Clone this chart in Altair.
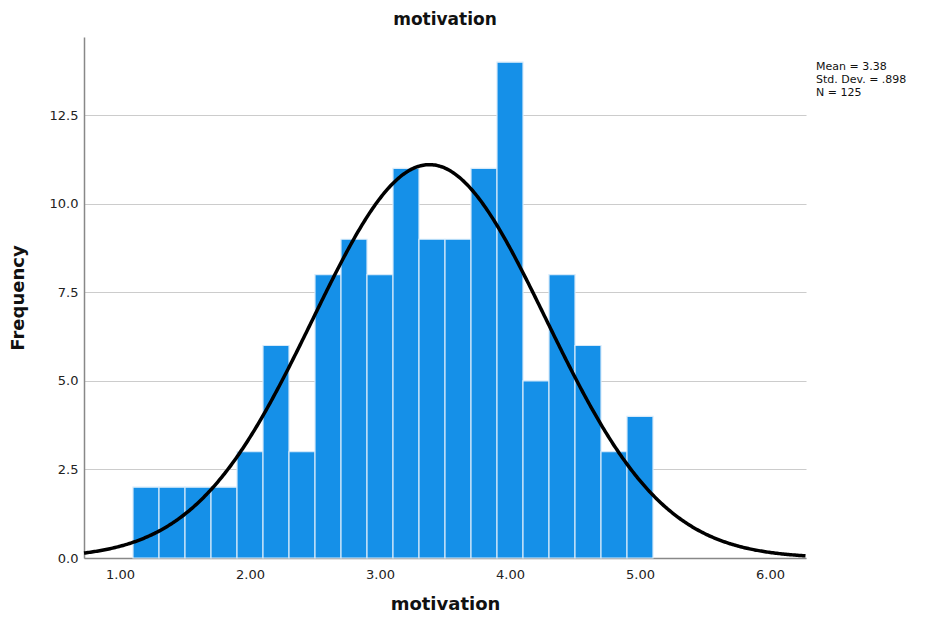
import altair as alt
import pandas as pd

# Histogram bins (start, end) and frequencies
bin_start = [1.1, 1.3, 1.5, 1.7, 1.9, 2.1, 2.3, 2.5, 2.7, 2.9,
             3.1, 3.3, 3.5, 3.7, 3.9, 4.1, 4.3, 4.5, 4.7, 4.9]
bin_end = [1.3, 1.5, 1.7, 1.9, 2.1, 2.3, 2.5, 2.7, 2.9, 3.1,
           3.3, 3.5, 3.7, 3.9, 4.1, 4.3, 4.5, 4.7, 4.9, 5.1]
counts = [2, 2, 2, 2, 3, 6, 3, 8, 9, 8,
          11, 9, 9, 11, 14, 5, 8, 6, 3, 4]

# Summary statistics shown in the reference
MEAN = 3.38
SD = 0.898
N = 125
BIN_W = 0.2

x_ticks = [1.0, 2.0, 3.0, 4.0, 5.0, 6.0]
y_ticks = [0.0, 2.5, 5.0, 7.5, 10.0, 12.5]
x_domain = [0.723, 6.277]
y_domain = [0, 14.71]

FONT = "DejaVu Sans"
BAR_COLOR = "#1590e8"

df = pd.DataFrame({"start": bin_start, "end": bin_end, "count": counts})

x_scale = alt.Scale(domain=x_domain, nice=False, zero=False)
y_scale = alt.Scale(domain=y_domain, nice=False)

bars = alt.Chart(df).mark_rect(
    color=BAR_COLOR, stroke="#d6eafa", strokeWidth=1.2
).encode(
    x=alt.X("start:Q", scale=x_scale,
            axis=alt.Axis(title="motivation", values=x_ticks, format=".2f",
                          grid=False, ticks=False, labelPadding=10,
                          domainColor="#888888", domainWidth=1.5,
                          labelFont=FONT, labelFontSize=13, labelColor="#222222",
                          titleFont=FONT, titleFontSize=18, titleFontWeight="bold",
                          titleColor="#111111", titlePadding=14)),
    x2="end:Q",
    y=alt.Y("count:Q", scale=y_scale,
            axis=alt.Axis(title="Frequency", values=y_ticks, format=".1f",
                          grid=True, gridColor="#cccccc", gridWidth=1.2,
                          ticks=False, labelPadding=6,
                          domainColor="#888888", domainWidth=1.5,
                          labelFont=FONT, labelFontSize=13, labelColor="#222222",
                          titleFont=FONT, titleFontSize=18, titleFontWeight="bold",
                          titleColor="#111111", titlePadding=22)),
    y2=alt.datum(0),
)

curve = alt.Chart(alt.sequence(x_domain[0], x_domain[1] + 0.005, 0.01, as_="x")).transform_calculate(
    y=f"{N} * {BIN_W} / ({SD} * sqrt(2 * PI)) * exp(-0.5 * pow((datum.x - {MEAN}) / {SD}, 2))"
).mark_line(color="black", strokeWidth=3.5).encode(
    x=alt.X("x:Q", scale=x_scale),
    y=alt.Y("y:Q", scale=y_scale),
)

stats_text = [f"Mean = {MEAN:.2f}", "Std. Dev. = .898", f"N = {N}"]
stats = alt.Chart(pd.DataFrame({"t": [stats_text]})).mark_text(
    align="left", baseline="top", font=FONT, fontSize=11, color="#111111",
    lineHeight=13
).encode(
    x=alt.value(732), y=alt.value(24), text="t"
)

chart = alt.layer(bars, curve, stats).properties(
    width=722, height=521,
    background="white",
    title=alt.TitleParams("motivation", font=FONT, fontSize=17, fontWeight="bold",
                          color="#111111", anchor="middle", offset=8),
    autosize=alt.AutoSizeParams(type="none"),
    padding={"left": 76, "top": 29, "right": 110, "bottom": 60},
).configure_view(stroke="transparent", strokeWidth=0)

chart.save("out.html", embed_options={"renderer": "svg", "actions": False})
